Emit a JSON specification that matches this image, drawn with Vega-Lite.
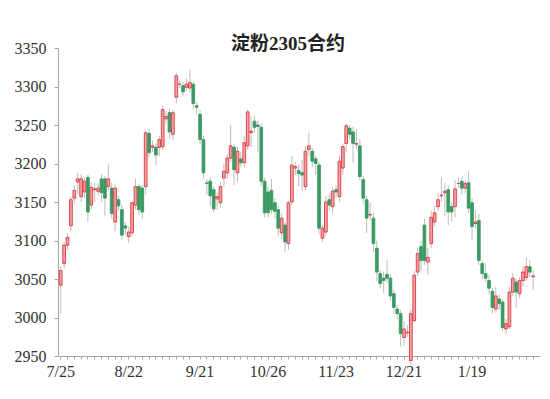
{
  "$schema": "https://vega.github.io/schema/vega-lite/v6.json",
  "width": 482,
  "height": 308,
  "autosize": {"type": "none"},
  "padding": {"left": 58, "top": 48, "right": 10, "bottom": 43},
  "background": "white",
  "title": {"text": "淀粉2305合约", "font": "Liberation Serif, Noto Sans CJK SC", "fontSize": 19, "fontWeight": "bold", "color": "#222222", "anchor": "middle", "frame": "group", "dx": -11, "offset": -33, "baseline": "bottom"},
  "config": {
    "view": {"stroke": null},
    "axis": {"domainColor": "#a6a6a6", "tickColor": "#a6a6a6", "labelFont": "Liberation Serif", "labelFontSize": 16, "labelColor": "#333333", "grid": false, "title": null},
    "axisY": {"labelOverlap": false, "labelFlush": false, "tickSize": 4, "labelPadding": 8, "values": [2950, 3000, 3050, 3100, 3150, 3200, 3250, 3300, 3350], "format": "d"}
  },
  "data": {"values": [
    {"d":"7/25","o":3042,"h":3066,"l":3005,"c":3061},
    {"d":"7/26","o":3070,"h":3098,"l":3064,"c":3094},
    {"d":"7/27","o":3094,"h":3110,"l":3088,"c":3104},
    {"d":"7/28","o":3119,"h":3157,"l":3112,"c":3153},
    {"d":"7/29","o":3155,"h":3172,"l":3148,"c":3165},
    {"d":"8/1","o":3176,"h":3188,"l":3160,"c":3180},
    {"d":"8/2","o":3157,"h":3186,"l":3150,"c":3180},
    {"d":"8/3","o":3163,"h":3182,"l":3155,"c":3177},
    {"d":"8/4","o":3182,"h":3186,"l":3124,"c":3137},
    {"d":"8/5","o":3146,"h":3176,"l":3140,"c":3169},
    {"d":"8/8","o":3166,"h":3175,"l":3150,"c":3167},
    {"d":"8/9","o":3164,"h":3174,"l":3158,"c":3168},
    {"d":"8/10","o":3180,"h":3186,"l":3150,"c":3162},
    {"d":"8/11","o":3180,"h":3184,"l":3132,"c":3155},
    {"d":"8/12","o":3170,"h":3200,"l":3165,"c":3180},
    {"d":"8/15","o":3168,"h":3175,"l":3128,"c":3135},
    {"d":"8/16","o":3124,"h":3172,"l":3112,"c":3168},
    {"d":"8/17","o":3153,"h":3158,"l":3138,"c":3145},
    {"d":"8/18","o":3140,"h":3146,"l":3100,"c":3107},
    {"d":"8/19","o":3119,"h":3124,"l":3108,"c":3116},
    {"d":"8/22","o":3105,"h":3118,"l":3097,"c":3111},
    {"d":"8/23","o":3110,"h":3152,"l":3105,"c":3149},
    {"d":"8/24","o":3146,"h":3180,"l":3140,"c":3170},
    {"d":"8/25","o":3170,"h":3174,"l":3133,"c":3140},
    {"d":"8/26","o":3168,"h":3172,"l":3128,"c":3137},
    {"d":"8/29","o":3170,"h":3243,"l":3160,"c":3240},
    {"d":"8/30","o":3239,"h":3245,"l":3208,"c":3214},
    {"d":"8/31","o":3221,"h":3230,"l":3215,"c":3223},
    {"d":"9/1","o":3221,"h":3226,"l":3198,"c":3211},
    {"d":"9/2","o":3221,"h":3236,"l":3210,"c":3231},
    {"d":"9/5","o":3222,"h":3275,"l":3218,"c":3270},
    {"d":"9/6","o":3258,"h":3268,"l":3252,"c":3261},
    {"d":"9/7","o":3266,"h":3272,"l":3232,"c":3241},
    {"d":"9/8","o":3238,"h":3270,"l":3230,"c":3266},
    {"d":"9/9","o":3286,"h":3318,"l":3278,"c":3314},
    {"d":"9/13","o":3303,"h":3308,"l":3298,"c":3303},
    {"d":"9/14","o":3301,"h":3306,"l":3288,"c":3293},
    {"d":"9/15","o":3299,"h":3310,"l":3294,"c":3303},
    {"d":"9/16","o":3298,"h":3322,"l":3292,"c":3305},
    {"d":"9/19","o":3303,"h":3306,"l":3270,"c":3278},
    {"d":"9/20","o":3275,"h":3280,"l":3264,"c":3273},
    {"d":"9/21","o":3264,"h":3270,"l":3225,"c":3231},
    {"d":"9/22","o":3231,"h":3236,"l":3180,"c":3188},
    {"d":"9/23","o":3175,"h":3180,"l":3159,"c":3174},
    {"d":"9/26","o":3177,"h":3182,"l":3145,"c":3158},
    {"d":"9/27","o":3166,"h":3170,"l":3136,"c":3141},
    {"d":"9/28","o":3154,"h":3162,"l":3140,"c":3157},
    {"d":"9/29","o":3149,"h":3176,"l":3142,"c":3170},
    {"d":"9/30","o":3181,"h":3200,"l":3170,"c":3190},
    {"d":"10/10","o":3188,"h":3212,"l":3180,"c":3207},
    {"d":"10/11","o":3207,"h":3250,"l":3202,"c":3223},
    {"d":"10/12","o":3221,"h":3226,"l":3172,"c":3192},
    {"d":"10/13","o":3188,"h":3222,"l":3176,"c":3216},
    {"d":"10/14","o":3206,"h":3215,"l":3196,"c":3201},
    {"d":"10/17","o":3201,"h":3235,"l":3195,"c":3227},
    {"d":"10/18","o":3223,"h":3270,"l":3218,"c":3267},
    {"d":"10/19","o":3240,"h":3262,"l":3221,"c":3242},
    {"d":"10/20","o":3255,"h":3262,"l":3240,"c":3247},
    {"d":"10/21","o":3250,"h":3256,"l":3215,"c":3248},
    {"d":"10/24","o":3247,"h":3252,"l":3170,"c":3177},
    {"d":"10/25","o":3177,"h":3182,"l":3130,"c":3136},
    {"d":"10/26","o":3163,"h":3170,"l":3130,"c":3136},
    {"d":"10/27","o":3165,"h":3180,"l":3134,"c":3140},
    {"d":"10/28","o":3149,"h":3155,"l":3128,"c":3138},
    {"d":"10/31","o":3140,"h":3145,"l":3105,"c":3116},
    {"d":"11/1","o":3110,"h":3135,"l":3102,"c":3129},
    {"d":"11/2","o":3120,"h":3124,"l":3085,"c":3098},
    {"d":"11/3","o":3096,"h":3152,"l":3088,"c":3149},
    {"d":"11/4","o":3150,"h":3210,"l":3145,"c":3198},
    {"d":"11/7","o":3194,"h":3202,"l":3185,"c":3196},
    {"d":"11/8","o":3191,"h":3198,"l":3170,"c":3187},
    {"d":"11/9","o":3188,"h":3205,"l":3165,"c":3185},
    {"d":"11/10","o":3170,"h":3222,"l":3165,"c":3216},
    {"d":"11/11","o":3218,"h":3240,"l":3210,"c":3223},
    {"d":"11/14","o":3216,"h":3220,"l":3195,"c":3203},
    {"d":"11/15","o":3206,"h":3210,"l":3185,"c":3200},
    {"d":"11/16","o":3198,"h":3202,"l":3108,"c":3116},
    {"d":"11/17","o":3103,"h":3120,"l":3098,"c":3116},
    {"d":"11/18","o":3111,"h":3158,"l":3106,"c":3150},
    {"d":"11/21","o":3153,"h":3160,"l":3138,"c":3146},
    {"d":"11/22","o":3144,"h":3170,"l":3135,"c":3164},
    {"d":"11/23","o":3166,"h":3172,"l":3155,"c":3163},
    {"d":"11/24","o":3157,"h":3210,"l":3150,"c":3203},
    {"d":"11/25","o":3194,"h":3226,"l":3185,"c":3222},
    {"d":"11/28","o":3226,"h":3252,"l":3215,"c":3249},
    {"d":"11/29","o":3246,"h":3250,"l":3232,"c":3238},
    {"d":"11/30","o":3241,"h":3248,"l":3201,"c":3226},
    {"d":"12/1","o":3225,"h":3245,"l":3218,"c":3226},
    {"d":"12/2","o":3223,"h":3232,"l":3178,"c":3183},
    {"d":"12/5","o":3179,"h":3184,"l":3148,"c":3155},
    {"d":"12/6","o":3153,"h":3158,"l":3110,"c":3129},
    {"d":"12/7","o":3133,"h":3150,"l":3126,"c":3134},
    {"d":"12/8","o":3129,"h":3136,"l":3085,"c":3096},
    {"d":"12/9","o":3090,"h":3100,"l":3048,"c":3059},
    {"d":"12/12","o":3057,"h":3062,"l":3038,"c":3044},
    {"d":"12/13","o":3051,"h":3060,"l":3032,"c":3048},
    {"d":"12/14","o":3056,"h":3075,"l":3045,"c":3051},
    {"d":"12/15","o":3051,"h":3056,"l":3022,"c":3028},
    {"d":"12/16","o":3031,"h":3036,"l":3005,"c":3013},
    {"d":"12/19","o":3011,"h":3016,"l":2998,"c":3005},
    {"d":"12/20","o":3005,"h":3010,"l":2962,"c":2979},
    {"d":"12/21","o":2974,"h":2995,"l":2963,"c":2985},
    {"d":"12/22","o":2980,"h":2990,"l":2975,"c":2981},
    {"d":"12/23","o":2944,"h":3010,"l":2938,"c":3005},
    {"d":"12/26","o":2996,"h":3060,"l":2993,"c":3055},
    {"d":"12/27","o":3059,"h":3090,"l":3054,"c":3083},
    {"d":"12/28","o":3092,"h":3100,"l":3060,"c":3074},
    {"d":"12/29","o":3120,"h":3128,"l":3068,"c":3074},
    {"d":"12/30","o":3072,"h":3090,"l":3055,"c":3078},
    {"d":"1/3","o":3096,"h":3138,"l":3090,"c":3130},
    {"d":"1/4","o":3124,"h":3145,"l":3118,"c":3136},
    {"d":"1/5","o":3144,"h":3162,"l":3138,"c":3153},
    {"d":"1/6","o":3158,"h":3182,"l":3150,"c":3159},
    {"d":"1/9","o":3162,"h":3175,"l":3132,"c":3164},
    {"d":"1/10","o":3166,"h":3172,"l":3120,"c":3137},
    {"d":"1/11","o":3144,"h":3150,"l":3125,"c":3137},
    {"d":"1/12","o":3144,"h":3178,"l":3130,"c":3167},
    {"d":"1/13","o":3174,"h":3182,"l":3168,"c":3174},
    {"d":"1/16","o":3177,"h":3182,"l":3160,"c":3168},
    {"d":"1/17","o":3168,"h":3178,"l":3162,"c":3174},
    {"d":"1/18","o":3175,"h":3190,"l":3136,"c":3142},
    {"d":"1/19","o":3149,"h":3155,"l":3100,"c":3118},
    {"d":"1/20","o":3122,"h":3140,"l":3115,"c":3124},
    {"d":"1/30","o":3126,"h":3135,"l":3068,"c":3074},
    {"d":"1/31","o":3070,"h":3074,"l":3050,"c":3057},
    {"d":"2/1","o":3057,"h":3070,"l":3046,"c":3051},
    {"d":"2/2","o":3048,"h":3055,"l":3030,"c":3038},
    {"d":"2/3","o":3034,"h":3038,"l":3005,"c":3013},
    {"d":"2/6","o":3011,"h":3040,"l":3006,"c":3028},
    {"d":"2/7","o":3024,"h":3030,"l":3010,"c":3018},
    {"d":"2/8","o":3020,"h":3024,"l":2982,"c":2987},
    {"d":"2/9","o":2985,"h":2998,"l":2978,"c":2992},
    {"d":"2/10","o":2988,"h":3040,"l":2985,"c":3033},
    {"d":"2/13","o":3033,"h":3058,"l":3028,"c":3051},
    {"d":"2/14","o":3046,"h":3050,"l":3012,"c":3033},
    {"d":"2/15","o":3031,"h":3052,"l":3025,"c":3048},
    {"d":"2/16","o":3048,"h":3066,"l":3040,"c":3059},
    {"d":"2/17","o":3052,"h":3078,"l":3048,"c":3066},
    {"d":"2/20","o":3066,"h":3075,"l":3052,"c":3059},
    {"d":"2/21","o":3053,"h":3062,"l":3035,"c":3054}
  ]},
  "encoding": {
    "x": {
      "field": "d", "type": "ordinal", "sort": null,
      "scale": {"paddingInner": 0.2, "paddingOuter": 1.5, "align": 0.2},
      "axis": {
        "values": ["7/25","7/27","7/29","8/2","8/4","8/8","8/10","8/12","8/16","8/18","8/22","8/24","8/26","8/30","9/1","9/5","9/7","9/9","9/14","9/16","9/21","9/23","9/27","9/29","10/10","10/12","10/14","10/18","10/20","10/24","10/26","10/28","11/1","11/3","11/7","11/9","11/11","11/15","11/17","11/21","11/23","11/25","11/29","12/1","12/5","12/7","12/9","12/13","12/15","12/19","12/21","12/23","12/27","12/29","1/3","1/5","1/9","1/11","1/13","1/17","1/19","1/30","2/1","2/3","2/7","2/9","2/13","2/15","2/17","2/21"],
        "labelExpr": "indexof(['7/25','8/22','9/21','10/26','11/23','12/21','1/19'], datum.value) >= 0 ? datum.value : ''",
        "labelAngle": 0, "labelOverlap": false, "labelBound": false, "labelFlush": false,
        "tickSize": 3, "labelPadding": 4, "title": null
      }
    },
    "y": {"field": "l", "type": "quantitative", "scale": {"domain": [2950, 3350], "zero": false, "nice": false},
          "axis": {"values": [2950, 3000, 3050, 3100, 3150, 3200, 3250, 3300, 3350], "format": "d", "labelOverlap": false, "title": null}}
  },
  "layer": [
    {
      "mark": {"type": "rule", "color": "#bdbdbd", "strokeWidth": 1},
      "encoding": {
        "y2": {"field": "h"}
      }
    },
    {
      "mark": {"type": "bar", "strokeWidth": 0.9},
      "encoding": {
        "y": {"field": "o", "type": "quantitative", "scale": {"domain": [2950, 3350], "zero": false, "nice": false},
              "axis": {"values": [2950, 3000, 3050, 3100, 3150, 3200, 3250, 3300, 3350], "format": "d", "labelOverlap": false, "title": null}},
        "y2": {"field": "c"},
        "fill": {"condition": {"test": "datum.c >= datum.o", "value": "#f3a3a3"}, "value": "#3a9a62"},
        "stroke": {"condition": {"test": "datum.c >= datum.o", "value": "#d9383f"}, "value": "#3a9a62"}
      }
    }
  ]
}
